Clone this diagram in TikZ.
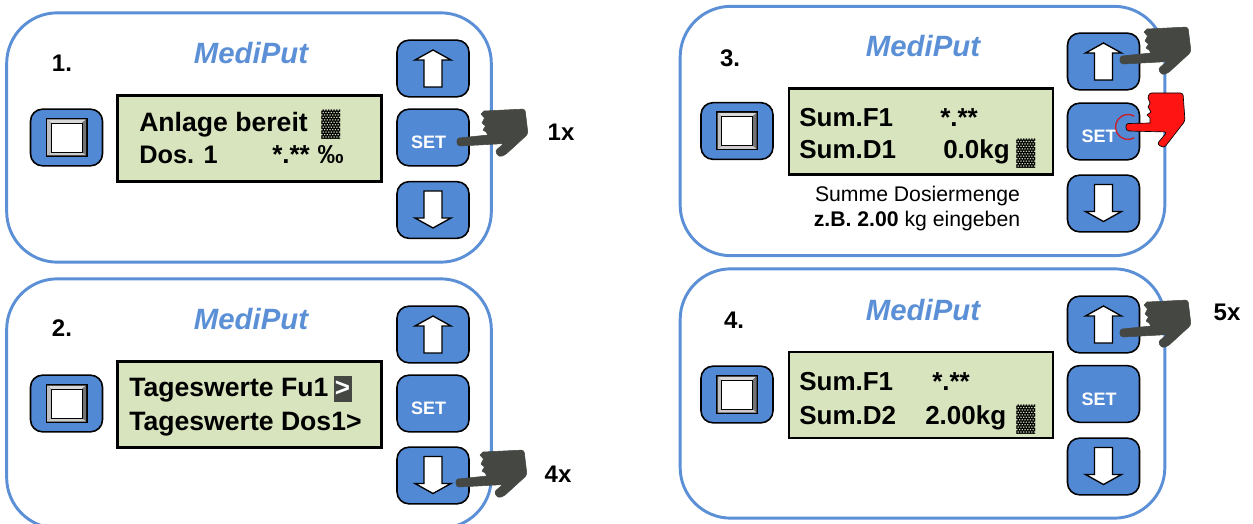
\documentclass[tikz,border=0pt]{standalone}
\usepackage{fontspec}
\setmainfont{Liberation Sans}
\definecolor{keyblue}{HTML}{5289D4}
\definecolor{panelblue}{HTML}{5B8FD6}
\definecolor{lcdgreen}{HTML}{D7E4BD}
\definecolor{handgrey}{HTML}{454742}
\definecolor{handred}{HTML}{FF1414}
\definecolor{ringred}{HTML}{C8202A}
\tikzset{
  panelbox/.style={draw=panelblue,line width=2.2pt,rounded corners=38pt,minimum width=363.5pt,minimum height=187pt,inner sep=0pt},
  keybox/.style={draw=black,fill=keyblue,line width=1.2pt,rounded corners=9pt,minimum width=54pt,minimum height=42.5pt,inner sep=0pt},
  lcdbox/.style={draw=black,fill=lcdgreen,line width=1.6pt,minimum width=198pt,minimum height=64.5pt,inner sep=0pt},
  lcdtext/.style={anchor=base west,inner sep=0pt,font=\fontsize{19.5}{19.5}\selectfont\bfseries},
  lcdwide/.style={anchor=base west,inner sep=0pt,font=\fontsize{19.95}{19.95}\selectfont\bfseries},
  brand/.style={inner sep=0pt,text=panelblue,font=\fontsize{22}{22}\selectfont\bfseries\itshape},
  steplabel/.style={inner sep=0pt,font=\fontsize{18}{18}\selectfont\bfseries},
  settext/.style={inner sep=0pt,text=white,font=\fontsize{13.5}{13.5}\selectfont\bfseries},
  hint/.style={anchor=base,inner sep=0pt,font=\fontsize{15.9}{15.9}\selectfont},
  arrowshape/.style={draw=black,fill=white,line width=1pt,line join=miter},
}
\newcommand{\uparrowkey}[3]{\node[keybox] (#1) at (#2,#3) {};
  \draw[arrowshape,shift={(#2,#3)}] (0,-18.5) -- (18,-8.5) -- (9,-8.5) -- (9,18.5) -- (-9,18.5) -- (-9,-8.5) -- (-18,-8.5) -- cycle;}
\newcommand{\downarrowkey}[3]{\node[keybox] (#1) at (#2,#3) {};
  \draw[arrowshape,shift={(#2,#3)}] (0,18) -- (18,8) -- (9,8) -- (9,-19) -- (-9,-19) -- (-9,8) -- (-18,8) -- cycle;}
\newcommand{\setkey}[3]{\node[keybox] (#1) at (#2,#3) {};
  \node[settext] (#1t) at (#2-4.5,#3+5) {SET};}
\newcommand{\squarekey}[3]{\node[keybox] (#1) at (#2,#3) {};
  \begin{scope}[shift={(#2,#3)}]
    \fill[black] (-21,-19.5) rectangle (21,19.5);
    \fill[white!85!black] (-19.5,-18) -- (19.5,-18) -- (15.5,-14.5) -- (-15.5,-14.5) -- cycle;
    \fill[white!75!black] (-19.5,-18) -- (-15.5,-14.5) -- (-15.5,14.5) -- (-19.5,18) -- cycle;
    \fill[white!45!black] (19.5,-18) -- (15.5,-14.5) -- (15.5,14.5) -- (19.5,18) -- cycle;
    \fill[white!80!black] (-19.5,18) -- (-15.5,14.5) -- (15.5,14.5) -- (19.5,18) -- cycle;
    \draw[black,line width=.5pt,fill=white] (-15.5,-14.5) rectangle (15.5,14.5);
  \end{scope}}
\newcommand{\hand}[2]{\draw[shift={(#1,#2)},draw=handgrey,fill=handgrey,line width=.4pt,line join=round]
  (0,-4) -- (29,-7) -- (27,-10) -- (24,-12) -- (26.5,-16) -- (23,-19) -- (25.5,-24) -- (22,-28) -- (25,-31)
  [rounded corners=2pt] -- (66,-33) -- (69,-8) -- (46,13) -- (40,15) -- (36,9) -- (45,1.5) -- (38,2)
  [sharp corners] -- (1,4) .. controls (-3,4) and (-3,-4) .. (0,-4) -- cycle;}
\newcommand{\redhand}[2]{\draw[shift={(#1,#2)},draw=black,fill=handred,line width=.5pt,line join=round]
  (0,-3.5) -- (22,-4) -- (22,-9) -- (19,-12) -- (23,-15) -- (20,-20) -- (22,-24) -- (20,-29)
  [rounded corners=2pt] -- (21,-34) -- (55,-34) -- (57,-6) -- (36,21) -- (29,17) -- (39,5)
  [sharp corners] -- (1,4) .. controls (-3,4) and (-3,-3.5) .. (0,-3.5) -- cycle;}
\begin{document}
\begin{tikzpicture}[x=0.75pt,y=-0.75pt]
\useasboundingbox (0,0) rectangle (1253,524);
\begin{scope}
\clip (0,0) rectangle (1253,524);
\node[panelbox] (p1) at (249,137.5) {};
\node[panelbox] (p2) at (249,403.5) {};
\node[panelbox] (p3) at (922.5,131) {};
\node[panelbox] (p4) at (922.5,393.5) {};
\end{scope}
% panel 1
\node[brand] (b1) at (251,53) {MediPut};
\node[steplabel] (s1) at (62,63) {1.};
\squarekey{k1}{66.5}{137.5}
\node[lcdbox] (l1) at (249.5,138.5) {};
\node[lcdwide] (l1a) at (139,132) {Anlage bereit};
\node[lcdtext] (l1b) at (321,132) {▓};
\node[lcdtext,font=\fontsize{19}{19}\selectfont\bfseries] (l1c) at (139,164) {Dos. 1};
\node[lcdtext] (l1d) at (272,164) {*.**\hspace{.5pt} ‰};
\uparrowkey{u1}{433}{68.5}
\setkey{e1}{433}{137.5}
\downarrowkey{d1}{433}{210}
\node[steplabel] (c1) at (561,132) {1x};
\hand{459}{142}
% panel 2
\node[brand] (b2) at (251,319) {MediPut};
\node[steplabel] (s2) at (62,328) {2.};
\squarekey{k2}{66.5}{403.5}
\node[lcdbox] (l2) at (249.5,404.5) {};
\node[lcdwide] (l2a) at (129,396) {Tageswerte Fu1};
\node[fill=handgrey,inner sep=0pt,minimum width=13.5pt,minimum height=20pt,text=white,font=\fontsize{19.5}{19.5}\selectfont\bfseries] (l2b) at (342.5,389) {>};
\node[lcdwide] (l2c) at (129,430) {Tageswerte Dos1>};
\uparrowkey{u2}{433}{334.5}
\setkey{e2}{433}{403.5}
\downarrowkey{d2}{433}{475.5}
\node[steplabel] (c2) at (558,474) {4x};
\hand{458}{483}
% panel 3
\node[brand] (b3) at (923,46) {MediPut};
\node[steplabel] (s3) at (730,58) {3.};
\squarekey{k3}{737}{131}
\node[lcdbox] (l3) at (921,131.5) {};
\node[lcdtext] (l3a) at (799,127) {Sum.F1};
\node[lcdtext] (l3b) at (940,127) {*.**};
\node[lcdtext] (l3c) at (799,159) {Sum.D1};
\node[lcdtext] (l3d) at (943,159) {0.0kg};
\node[lcdtext] (l3e) at (1016,161) {▓};
\node[hint] (h3a) at (917.5,201) {Summe Dosiermenge};
\node[hint] (h3b) at (917,227) {\textbf{z.B. 2.00} kg eingeben};
\uparrowkey{u3}{1103.5}{61.5}
\setkey{e3}{1103.5}{131.5}
\downarrowkey{d3}{1103.5}{203.5}
\hand{1122}{60}
\redhand{1128}{127}
\coordinate (r3) at (1128,127);
\draw[ringred,line width=1pt] (r3) ++(60:12.5) arc[start angle=60,end angle=300,radius=12.5];
% panel 4
\node[brand] (b4) at (923,310) {MediPut};
\node[steplabel] (s4) at (734,320) {4.};
\squarekey{k4}{737}{394.5}
\node[lcdbox] (l4) at (921,395) {};
\node[lcdtext] (l4a) at (799,390) {Sum.F1};
\node[lcdtext] (l4b) at (932,390) {*.**};
\node[lcdtext] (l4c) at (799,424) {Sum.D2};
\node[lcdtext] (l4d) at (925,424) {2.00kg};
\node[lcdtext] (l4e) at (1016,426) {▓};
\uparrowkey{u4}{1103.5}{324.5}
\setkey{e4}{1103.5}{394}
\downarrowkey{d4}{1103.5}{466.5}
\node[steplabel] (c4) at (1227,312) {5x};
\hand{1122}{333}
\end{tikzpicture}
\end{document}
